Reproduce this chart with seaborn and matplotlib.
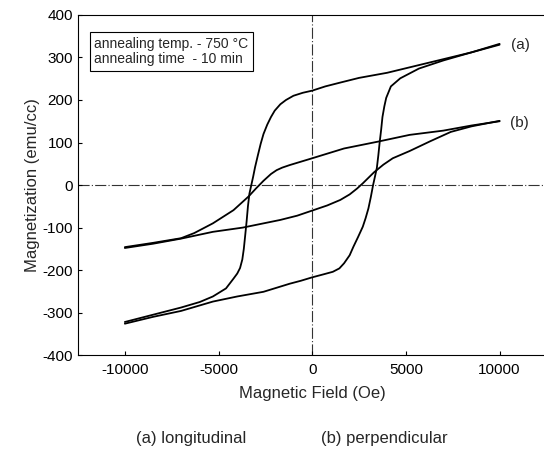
import matplotlib
matplotlib.use("Agg")
import matplotlib.pyplot as plt
import seaborn as sns

# (a) longitudinal loop
a_down_h = [10000, 8500, 7000, 5500, 4000, 2500, 1500, 700, 0, -500, -1000, -1400,
            -1700, -2000, -2200, -2400, -2600, -2750, -2900, -3050, -3150, -3250,
            -3350, -3430, -3500, -3580, -3650, -3730, -3850, -4000, -4200, -4600,
            -5300, -6000, -7000, -8500, -10000]
a_down_m = [330, 312, 296, 280, 264, 252, 241, 232, 222, 217, 210, 200,
            190, 175, 160, 142, 120, 97, 70, 42, 20, 0,
            -20, -50, -85, -120, -150, -175, -195, -208, -220, -243,
            -262, -275, -288, -305, -322]
a_up_h = [-10000, -8500, -7000, -5300, -4000, -2600, -1200, -600, 0, 600, 1100, 1450,
          1700, 2000, 2200, 2450, 2700, 2850, 3000, 3130, 3250, 3350, 3450, 3530,
          3600, 3680, 3750, 3850, 3950, 4200, 4700, 5700, 7000, 8500, 10000]
a_up_m = [-326, -310, -296, -274, -262, -251, -232, -225, -217, -210, -204, -196,
          -184, -165, -145, -122, -98, -78, -55, -28, 0, 20, 40, 70,
          100, 130, 160, 185, 205, 232, 251, 274, 293, 312, 332]

# (b) perpendicular loop
b_down_h = [10000, 8500, 7000, 5200, 3500, 1700, 0, -600, -1200, -1600, -1900, -2200,
            -2600, -3000, -3400, -4200, -5300, -6300, -7000, -8500, -10000]
b_down_m = [150, 140, 128, 118, 102, 86, 63, 55, 47, 41, 35, 26,
            10, -8, -27, -59, -90, -113, -125, -136, -146]
b_up_h = [-10000, -8500, -7000, -5300, -3700, -1700, -800, 0, 800, 1500, 2000, 2400,
          2700, 3000, 3300, 3800, 4300, 5200, 6300, 7400, 8500, 10000]
b_up_m = [-148, -138, -126, -110, -100, -82, -72, -60, -48, -35, -22, -8,
          4, 17, 30, 48, 63, 80, 103, 125, 138, 151]

x_ticks = [-10000, -5000, 0, 5000, 10000]
y_ticks = [-400, -300, -200, -100, 0, 100, 200, 300, 400]

sns.set_style("ticks")
plt.rcParams['font.family'] = ['Liberation Sans', 'DejaVu Sans']
plt.rcParams['axes.unicode_minus'] = False

fig = plt.figure(figsize=(5.44, 4.53), dpi=100)
ax = fig.add_axes([0.1434, 0.216, 0.861, 0.751])

for hx, my in [(a_down_h, a_down_m), (a_up_h, a_up_m),
               (b_down_h, b_down_m), (b_up_h, b_up_m)]:
    sns.lineplot(x=hx, y=my, sort=False, estimator=None, color='black',
                 linewidth=1.3, ax=ax)

ax.axhline(0, color='#333333', linewidth=0.8, linestyle=(0, (10, 2, 1, 2)), zorder=0)
ax.axvline(0, color='#333333', linewidth=0.8, linestyle=(0, (10, 2, 1, 2)), zorder=0)

ax.set_xlim(-12500, 12500)
ax.set_ylim(-400, 400)
ax.set_xticks(x_ticks)
ax.set_yticks(y_ticks)
ax.tick_params(direction='in', length=3, width=0.8, labelsize=11, colors='black')
ax.tick_params(axis='x', pad=6)
for s in ax.spines.values():
    s.set_color('black')
    s.set_linewidth(0.8)

ax.set_xlabel('Magnetic Field (Oe)', fontsize=12, labelpad=6)
ax.set_ylabel('Magnetization (emu/cc)', fontsize=12, labelpad=2)

ax.text(11100, 329, '(a)', fontsize=11, ha='center', va='center')
ax.text(11050, 146, '(b)', fontsize=11, ha='center', va='center')

ax.text(0.035, 0.935, 'annealing temp. - 750 \u00b0C\nannealing time  - 10 min',
        transform=ax.transAxes, fontsize=10, ha='left', va='top', linespacing=1.1,
        bbox=dict(boxstyle='square,pad=0.35', facecolor='white', edgecolor='black',
                  linewidth=0.8))

fig.text(191 / 544, 1 - 439 / 453, '(a) longitudinal', fontsize=12, ha='center', va='center')
fig.text(384 / 544, 1 - 439 / 453, '(b) perpendicular', fontsize=12, ha='center', va='center')

fig.savefig('out.png', dpi=100)
